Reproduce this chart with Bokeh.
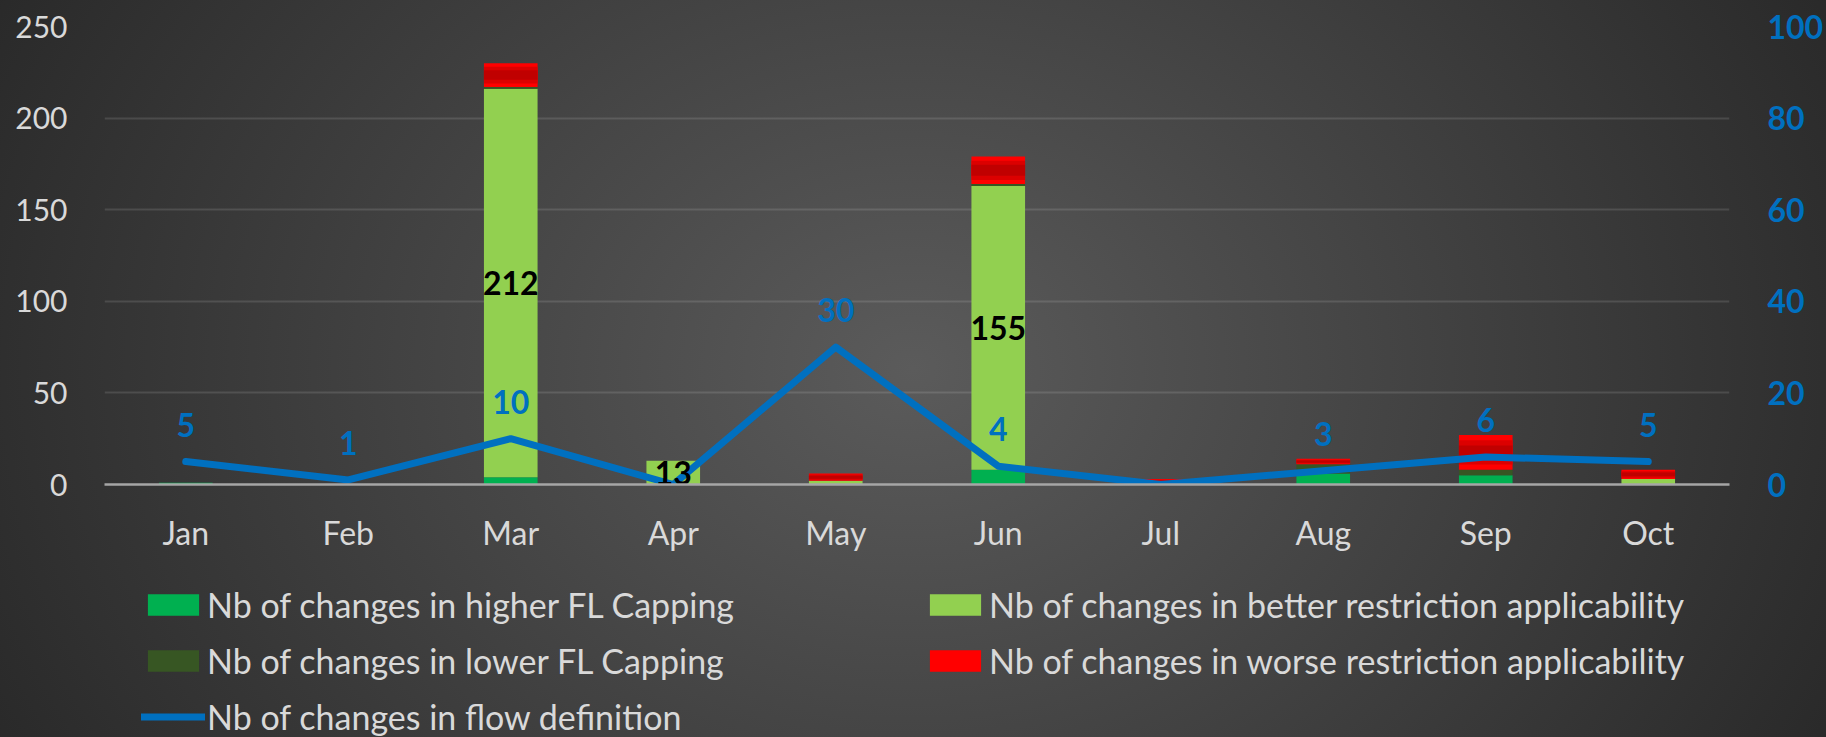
import numpy as np
from bokeh.plotting import figure
from bokeh.layouts import column
from bokeh.models import (ColumnDataSource, FactorRange, Range1d, LinearAxis, FixedTicker,
                          Legend, LegendItem)
from bokeh.core.properties import value
from bokeh.embed import file_html
from bokeh.resources import INLINE

# ---------------- data ----------------
months = ["Jan", "Feb", "Mar", "Apr", "May", "Jun", "Jul", "Aug", "Sep", "Oct"]
higher_fl = [1, 0, 4, 0, 0, 8, 0, 6, 5, 0]
better_restr = [0, 0, 212, 13, 2, 155, 0, 0, 0, 3]
lower_fl = [0, 0, 1, 0, 0, 1, 0, 5, 3, 0]
worse_restr = [0, 0, 13, 0, 4, 15, 3, 3, 19, 5]
flow_def = [5, 1, 10, 0, 30, 4, 0, 3, 6, 5]
left_ticks = [0, 50, 100, 150, 200, 250]
right_ticks = [0, 20, 40, 60, 80, 100]
series_names = ["Nb of changes in higher FL Capping",
                "Nb of changes in better restriction applicability",
                "Nb of changes in lower FL Capping",
                "Nb of changes in worse restriction applicability",
                "Nb of changes in flow definition"]

FONT = "Lato"
GREY = "#D9D9D9"
BLUE = "#0070C0"
colors = ["#00B050", "#92D050", "#375623", "#FF0000"]

src = ColumnDataSource(dict(month=months, higher=higher_fl, better=better_restr,
                            lower=lower_fl, worse=worse_restr))

p = figure(x_range=FactorRange(*months, range_padding=0), y_range=Range1d(0, 250),
           width=1826, height=560, output_backend="svg", toolbar_location=None,
           min_border_left=104, min_border_right=96, min_border_top=26, min_border_bottom=76)
p.extra_y_ranges = {"flow": Range1d(0, 100)}
p.border_fill_color = None
p.background_fill_color = None
p.outline_line_color = None

bw = 0.33
stack_cols = ["higher", "better", "lower", "worse"]
rs = p.vbar_stack(stack_cols, x="month", width=bw, color=colors, line_color=None, source=src)

# red gradient imitation on "worse" segments
h = np.array(higher_fl); b = np.array(better_restr); lo = np.array(lower_fl); w = np.array(worse_restr)
base = h + b + lo
for frac, col in [(0.7, "#DC0000"), (0.4, "#C00000")]:
    pad = w * (1 - frac) / 2
    p.vbar(x=months, bottom=base + pad, top=base + w - pad, width=bw, color=col, line_color=None)

# axes
p.yaxis.ticker = FixedTicker(ticks=left_ticks)
p.yaxis.axis_line_color = None
p.yaxis.major_tick_line_color = None
p.yaxis.minor_tick_line_color = None
p.yaxis.major_label_text_font = FONT
p.yaxis.major_label_text_font_size = "30px"
p.yaxis.major_label_text_color = GREY
p.yaxis.major_label_standoff = 31

ax2 = LinearAxis(y_range_name="flow", ticker=FixedTicker(ticks=right_ticks))
ax2.axis_line_color = None
ax2.major_tick_line_color = None
ax2.minor_tick_line_color = None
ax2.major_label_text_font = FONT
ax2.major_label_text_font_size = "32px"
ax2.major_label_text_font_style = "bold"
ax2.major_label_text_color = BLUE
ax2.major_label_standoff = 32
p.add_layout(ax2, "right")

p.xaxis.axis_line_color = "#A6A6A6"
p.xaxis.axis_line_width = 2.5
p.xaxis.major_tick_line_color = None
p.xaxis.minor_tick_line_color = None
p.xaxis.major_label_text_font = FONT
p.xaxis.major_label_text_font_size = "32px"
p.xaxis.major_label_text_color = GREY
p.xaxis.major_label_standoff = 22

p.xgrid.grid_line_color = None
p.ygrid.grid_line_color = "#FFFFFF"
p.ygrid.grid_line_alpha = 0.12
p.ygrid.grid_line_width = 2

# flow line
line_r = p.line(x=months, y=flow_def, y_range_name="flow", line_color=BLUE, line_width=7,
                line_cap="round", line_join="round")

# labels for flow (non-zero)
fl_m = [m for m, v in zip(months, flow_def) if v != 0]
fl_v = [v for v in flow_def if v != 0]
p.text(x=fl_m, y=fl_v, text=[str(v) for v in fl_v], y_range_name="flow",
       text_font=value(FONT), text_font_size="32px", text_font_style="bold",
       text_color=BLUE, text_align="center", text_baseline="middle", y_offset=-37)

# labels for better restriction
bl_m = [m for m, v in zip(months, better_restr) if v >= 10]
bl_y = [hh + v / 2 for hh, v in zip(higher_fl, better_restr) if v >= 10]
bl_t = [str(v) for v in better_restr if v >= 10]
p.text(x=bl_m, y=bl_y, text=bl_t, text_font=value(FONT), text_font_size="32px",
       text_font_style="bold", text_color="#000000", text_align="center", text_baseline="middle")

# ---------------- legend strip ----------------
leg = figure(width=1826, height=177, x_range=Range1d(0, 1), y_range=Range1d(0, 1),
             output_backend="svg", toolbar_location=None, x_axis_location=None,
             y_axis_location=None, min_border=0)
leg.grid.visible = False
leg.outline_line_color = None
leg.border_fill_color = None
leg.background_fill_color = None
# proxy renderers (outside the visible range) that only supply legend swatches
lr = [leg.vbar(x=[-5], bottom=[-5], top=[-4], width=0.1, color=c, line_color=None) for c in colors]
lr.append(leg.line(x=[-5, -4], y=[-5, -5], line_color=BLUE, line_width=7, line_cap="round"))

legend = Legend(items=[LegendItem(label=n, renderers=[r]) for n, r in zip(series_names, lr)],
                location=(37, 0), orientation="horizontal", ncols=2,
                spacing=15, glyph_width=64, glyph_height=27, label_standoff=2, label_width=701,
                label_height=41,
                label_text_font=FONT, label_text_font_size="34px", label_text_color=GREY,
                background_fill_alpha=0, border_line_color=None, padding=0, margin=0)
leg.add_layout(legend)

layout = column(p, leg, spacing=0,
                styles={"background": "radial-gradient(ellipse 60% 120% at 50% 50%, #5b5b5b 0%, #262626 100%)"})

open("out.html", "w").write(file_html(layout, INLINE))
